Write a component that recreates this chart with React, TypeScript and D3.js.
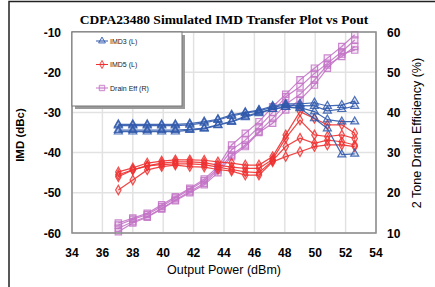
import * as d3 from 'd3';

// output power sweep points (dBm)
const pout = [37.05, 38.0, 38.95, 39.9, 40.8, 41.75, 42.7, 43.6, 44.5, 45.4, 46.3, 47.2, 48.06, 49.0, 49.95, 50.8, 51.75, 52.6];

// IMD3 (dBc), four simulated curves
const imd3 = [
    [-33.0, -33.0, -33.0, -33.0, -33.0, -32.8, -32.3, -31.7, -30.6, -30.0, -29.4, -28.4, -27.9, -27.9, -27.6, -28.4, -28.2, -27.2],
    [-33.3, -33.3, -33.3, -33.3, -33.3, -33.1, -32.6, -31.9, -30.9, -30.2, -29.6, -28.7, -28.2, -28.3, -28.4, -29.6, -29.2, -28.4],
    [-34.4, -34.4, -34.4, -34.4, -34.4, -34.2, -33.9, -33.1, -32.2, -31.0, -30.0, -29.2, -28.6, -28.8, -29.8, -31.8, -32.3, -32.3],
    [-34.8, -34.8, -34.8, -34.8, -34.8, -34.4, -34.1, -33.2, -32.4, -31.2, -30.2, -29.2, -28.7, -29.0, -31.5, -34.0, -40.5, -40.3],
];

// IMD5 (dBc)
const imd5 = [
    [-44.8, -43.8, -42.6, -42.1, -41.8, -41.8, -41.9, -42.3, -42.6, -43.1, -43.1, -41.0, -35.6, -29.8, -31.5, -33.1, -33.1, -35.2],
    [-46.0, -44.3, -43.3, -42.6, -42.3, -42.3, -42.5, -43.1, -43.6, -43.9, -43.9, -41.7, -36.4, -31.9, -35.6, -36.0, -35.6, -36.5],
    [-45.5, -44.3, -43.3, -43.0, -42.8, -42.8, -43.0, -43.6, -44.2, -44.8, -45.0, -42.0, -38.5, -36.4, -37.7, -36.9, -37.3, -38.1],
    [-49.3, -46.8, -44.3, -43.5, -43.1, -43.5, -43.6, -44.2, -44.6, -45.6, -45.6, -42.3, -41.0, -39.8, -38.5, -38.1, -38.1, -38.5],
];

// 2 tone drain efficiency (%)
const drainEff = [
    [12.5, 13.7, 14.9, 17.0, 19.0, 21.1, 23.4, 26.5, 31.9, 34.8, 37.7, 41.4, 44.5, 48.1, 51.0, 53.5, 56.4, 59.3],
    [12.0, 13.4, 14.6, 16.6, 18.7, 20.8, 23.0, 26.0, 30.7, 33.1, 36.4, 40.0, 43.9, 46.4, 49.7, 52.2, 55.1, 58.0],
    [11.2, 12.8, 14.1, 16.1, 18.2, 20.3, 22.4, 25.7, 29.4, 31.9, 35.2, 38.5, 42.0, 44.5, 48.0, 51.8, 53.9, 56.4],
    [10.3, 12.5, 13.9, 16.0, 18.0, 20.0, 22.0, 25.0, 29.0, 31.5, 35.0, 37.3, 40.6, 43.1, 46.8, 51.0, 54.5, 55.5],
];

const xTicks = [34, 36, 38, 40, 42, 44, 46, 48, 50, 52, 54];
const leftTicks = [-10, -20, -30, -40, -50, -60];
const rightTicks = [60, 50, 40, 30, 20, 10];

const legendItems = ["IMD3 (L)", "IMD5 (L)", "Drain Eff (R)"];

const BLUE = "#3059ac";
const RED = "#ee3030";
const PINK = "#c374c6";

const W = 435, H = 287;
const plot = { left: 72, right: 376, top: 32, bottom: 233 };

const x = d3.scaleLinear().domain([34, 54]).range([plot.left, plot.right]);
const yL = d3.scaleLinear().domain([-60, -10]).range([plot.bottom, plot.top]);
const yR = d3.scaleLinear().domain([10, 60]).range([plot.bottom, plot.top]);

const tri = d3.symbol().type(d3.symbolTriangle).size(28);
const dia = d3.symbol().type(d3.symbolDiamond).size(26);
const sq = d3.symbol().type(d3.symbolSquare).size(40);

const Series = ({ rows, y, color, shape }: { rows: number[][]; y: d3.ScaleLinear<number, number>; color: string; shape: string }) => {
    const line = d3.line<number>().x((_, i) => x(pout[i])).y(d => y(d));
    return (
        <g>
            {rows.map((r, k) => (
                <g key={k}>
                    <path d={line(r) || ""} fill="none" stroke={color} strokeWidth={1.2} strokeOpacity={0.9} />
                    {r.map((v, i) => (
                        <path key={i} d={shape} transform={`translate(${x(pout[i])},${y(v)})`}
                            fill={color} fillOpacity={0.15} stroke={color} strokeWidth={1.2} strokeOpacity={0.85} />
                    ))}
                </g>
            ))}
        </g>
    );
};

const App = () => {
    const legendShapes = [tri() || "", dia() || "", sq() || ""];
    const legendColors = [BLUE, RED, PINK];
    return (
        <div style={{ position: "fixed", left: 0, top: 0 }}>
            <svg width={W} height={H} style={{ display: "block", background: "#fff" }}>
                {/* outer frame */}
                <rect x={9} y={1.5} width={W + 20} height={H + 20} fill="none" stroke="#222" strokeWidth={1.5} />

                <text x={224} y={24} textAnchor="middle" fontFamily="Liberation Serif" fontWeight="bold" fontSize={13.5}>
                    CDPA23480 Simulated IMD Transfer Plot vs Pout
                </text>

                {/* grid */}
                {xTicks.map(t => (
                    <line key={t} x1={x(t)} x2={x(t)} y1={plot.top} y2={plot.bottom} stroke="#e2e2e2" strokeWidth={1.5} />
                ))}
                {leftTicks.map(t => (
                    <line key={t} x1={plot.left} x2={plot.right} y1={yL(t)} y2={yL(t)} stroke="#e2e2e2" strokeWidth={1.5} />
                ))}

                <Series rows={drainEff} y={yR} color={PINK} shape={sq() || ""} />
                <Series rows={imd5} y={yL} color={RED} shape={dia() || ""} />
                <Series rows={imd3} y={yL} color={BLUE} shape={tri() || ""} />

                {/* plot frame */}
                <rect x={plot.left} y={plot.top} width={plot.right - plot.left} height={plot.bottom - plot.top}
                    fill="none" stroke="#8a8a8a" strokeWidth={1.5} />

                {/* legend */}
                <rect x={75} y={35} width={110} height={74} fill="#9a9a9a" />
                <rect x={72} y={32} width={110} height={74} fill="#fff" stroke="#777" strokeWidth={1} />
                {legendItems.map((s, i) => {
                    const ly = 41 + i * 23.5;
                    return (
                        <g key={s}>
                            <line x1={96} x2={108} y1={ly} y2={ly} stroke={legendColors[i]} strokeWidth={1} />
                            <path d={legendShapes[i]} transform={`translate(102,${ly}) scale(0.85)`} fill={legendColors[i]} fillOpacity={0.15}
                                stroke={legendColors[i]} strokeWidth={1} />
                            <text x={110} y={ly + 2.5} fontFamily="Liberation Sans" fontSize={7} fill="#222">{s}</text>
                        </g>
                    );
                })}

                {/* axes labels */}
                {xTicks.map(t => (
                    <text key={t} x={x(t)} y={257} textAnchor="middle" fontFamily="Liberation Sans" fontWeight="bold" fontSize={12}>{t}</text>
                ))}
                {leftTicks.map(t => (
                    <text key={t} x={61} y={yL(t) + 4.5} textAnchor="end" fontFamily="Liberation Sans" fontWeight="bold" fontSize={12}>{t}</text>
                ))}
                {rightTicks.map(t => (
                    <text key={t} x={387} y={yR(t) + 4.5} fontFamily="Liberation Sans" fontWeight="bold" fontSize={12}>{t}</text>
                ))}

                <text x={224} y={274} textAnchor="middle" fontFamily="Liberation Sans" fontSize={12.5}>Output Power (dBm)</text>
                <text transform="translate(24,135) rotate(-90)" textAnchor="middle" fontFamily="Liberation Sans" fontWeight="bold" fontSize={11.5}>IMD (dBc)</text>
                <text transform="translate(421,133) rotate(-90)" textAnchor="middle" fontFamily="Liberation Sans" fontSize={12.5}>2 Tone Drain Efficiency (%)</text>
            </svg>
        </div>
    );
};

export default App;
